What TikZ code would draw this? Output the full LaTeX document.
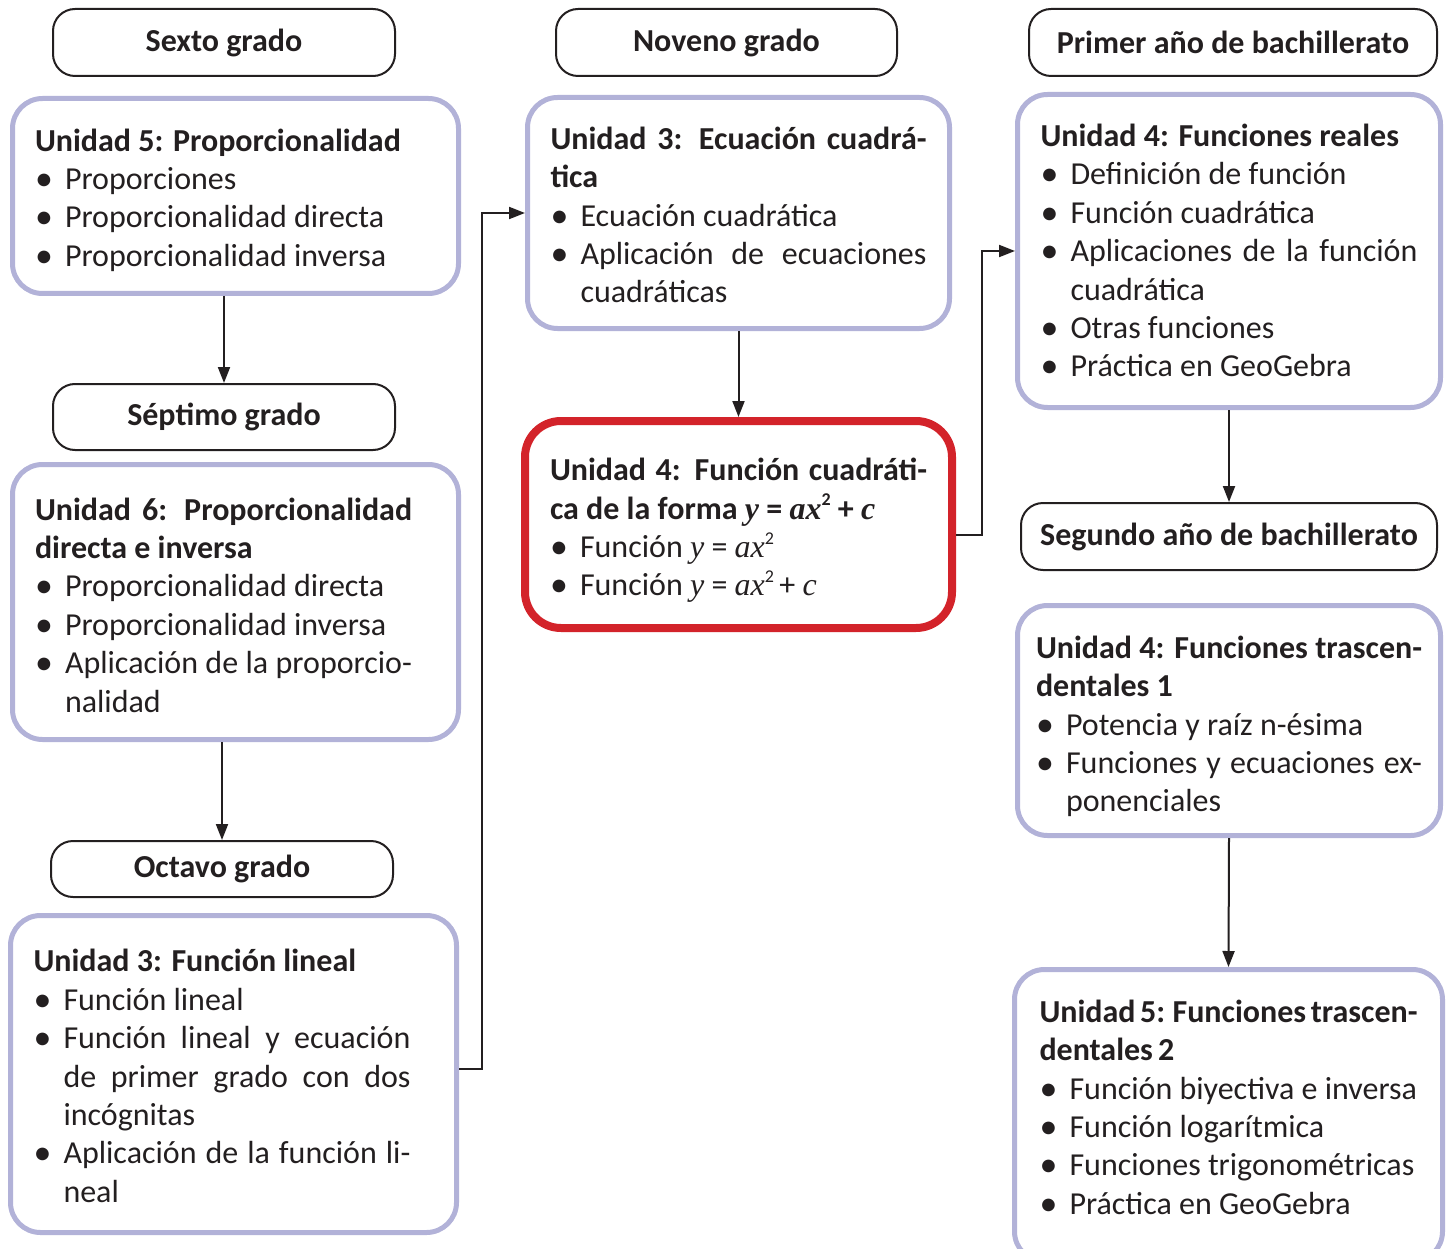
\documentclass[tikz,border=0pt]{standalone}
\usepackage{fontspec}
\usepackage{graphicx}
\setmainfont{Carlito}
\newfontfamily\varfont{Liberation Serif}
\usetikzlibrary{arrows.meta,positioning,calc}
\definecolor{unitlav}{RGB}{178,178,216}
\definecolor{unitred}{RGB}{211,35,42}
\definecolor{inkblack}{RGB}{35,31,32}
\newcommand{\itm}{\par\noindent\hangindent=30pt\hangafter=1%
  \makebox[30pt][l]{\raisebox{-0.03em}{\scalebox{1.12}{\textbullet}}}}
\newcommand{\mv}[1]{{\varfont\itshape #1}}
\newcommand{\sq}{\raisebox{0.42em}{\fontsize{18}{18}\selectfont 2}}

\begin{document}
\begin{tikzpicture}[x=1pt, y=-1pt,
    gradebox/.style={draw=inkblack, line width=2pt, rounded corners=22pt,
      font=\fontsize{32}{38.4}\selectfont\bfseries, text=inkblack,
      anchor=north west, inner sep=0pt},
    unitbox/.style={draw=unitlav, line width=5pt, rounded corners=30pt,
      font=\fontsize{32}{38.4}\selectfont, text=inkblack, align=justify,
      anchor=north west, inner ysep=0pt},
    focusbox/.style={unitbox, draw=unitred, line width=8pt, rounded corners=36pt},
    rskip/.style={execute at begin node={\rightskip=#1\relax}},
    lift/.style={execute at end node={\kern#1\relax}},
    link/.style={draw=inkblack, line width=2pt, -{Triangle[length=16pt,width=12pt]}}]
  \useasboundingbox (0,0) rectangle (1448,1249);

  % sexto a octavo grado
  \node[gradebox, minimum width=342pt, minimum height=67pt] (sexto) at (52,8) {Sexto grado};
  \node[unitbox, minimum width=446pt, minimum height=195pt, inner xsep=22.5pt,
        text width=401pt, rskip=24pt, lift=-8pt] (u5) at (10,96) {%
    {\bfseries Unidad 5: Proporcionalidad}%
    \itm Proporciones
    \itm Proporcionalidad directa
    \itm Proporcionalidad inversa\par};
  \node[gradebox, minimum width=342pt, minimum height=66pt] (septimo) at (52,383) {Séptimo grado};
  \node[unitbox, minimum width=446pt, minimum height=275pt, inner xsep=22.5pt,
        text width=401pt, rskip=24pt, lift=-6pt] (u6) at (10,462) {%
    {\bfseries Unidad 6: Proporcionalidad\linebreak directa e inversa}%
    \itm Proporcionalidad directa
    \itm Proporcionalidad inversa
    \itm Aplicación de la proporcio-\linebreak nalidad\par};
  \node[gradebox, minimum width=342pt, minimum height=56pt] (octavo) at (50,840) {Octavo grado};
  \node[unitbox, minimum width=446pt, minimum height=317pt, inner xsep=23pt,
        text width=400pt, rskip=23pt, lift=-4pt] (u3l) at (8,913) {%
    {\bfseries Unidad 3: Función lineal}%
    \itm Función lineal
    \itm Función lineal y ecuación\linebreak de primer grado con dos\linebreak incógnitas
    \itm Aplicación de la función li-\linebreak neal\par};

  % noveno grado
  \node[gradebox, minimum width=341pt, minimum height=67pt] (noveno) at (555,8) {Noveno grado};
  \node[unitbox, minimum width=422pt, minimum height=231pt, inner xsep=23pt,
        text width=376pt, lift=-4pt] (u3c) at (525,95) {%
    {\bfseries Unidad 3: Ecuación cuadrá-\linebreak tica}%
    \itm Ecuación cuadrática
    \itm Aplicación de ecuaciones\linebreak cuadráticas\par};
  \node[focusbox, minimum width=427pt, minimum height=207pt, inner xsep=25pt,
        text width=377pt, lift=-12pt] (u4c) at (521,417) {%
    {\bfseries Unidad 4: Función cuadráti-\linebreak ca de la forma \mv{y} = \mv{ax}\sq{} + \mv{c}}%
    \itm Función \mv{y} = \mv{ax}\sq
    \itm Función \mv{y} = \mv{ax}\sq\,+ \mv{c}\par};

  % bachillerato
  \node[gradebox, minimum width=408pt, minimum height=67pt] (primer) at (1028,8) {Primer año de bachillerato};
  \node[unitbox, minimum width=423pt, minimum height=313pt, inner xsep=23pt,
        text width=377pt] (u4r) at (1015,92) {%
    {\bfseries Unidad 4: Funciones reales}%
    \itm Definición de función
    \itm Función cuadrática
    \itm Aplicaciones de la función\linebreak cuadrática
    \itm Otras funciones
    \itm Práctica en GeoGebra\par};
  \node[gradebox, minimum width=416pt, minimum height=67pt] (segundo) at (1020,502) {Segundo año de bachillerato};
  \node[unitbox, minimum width=423pt, minimum height=230pt, inner xsep=18.5pt,
        text width=386pt, lift=-12pt] (u4t) at (1015,603) {%
    {\bfseries Unidad 4: Funciones trascen-\linebreak dentales 1}%
    \itm Potencia y raíz n-ésima
    \itm Funciones y ecuaciones ex-\linebreak ponenciales\par};
  \node[unitbox, minimum width=428pt, minimum height=292pt, inner xsep=25pt,
        text width=378pt, lift=16pt] (u5t) at (1012,967) {%
    {\bfseries\spaceskip=0.16em plus 0.2em minus 0.05em
     Unidad 5: Funciones trascen-\linebreak dentales 2}%
    \itm Función biyectiva e inversa
    \itm Función logarítmica
    \itm Funciones trigonométricas
    \itm Práctica en GeoGebra\par};

  % conexiones
  \draw[link] (u5.south -| septimo.north) -- (septimo.north);
  \draw[link] (u6.south -| octavo.north) -- (octavo.north);
  \draw[link] ([yshift=5pt]u3l.east) -- ++(23,0) |- (u3c.west);
  \draw[link] (u3c.south) -- (u4c.north);
  \draw[link] ([yshift=-10pt]u4c.east) -- ++(26,0) |- (u4r.west);
  \draw[link] (u4r.south) -- (segundo.north);
  \draw[link] (u4t.south) -- (u5t.north);
\end{tikzpicture}
\end{document}
